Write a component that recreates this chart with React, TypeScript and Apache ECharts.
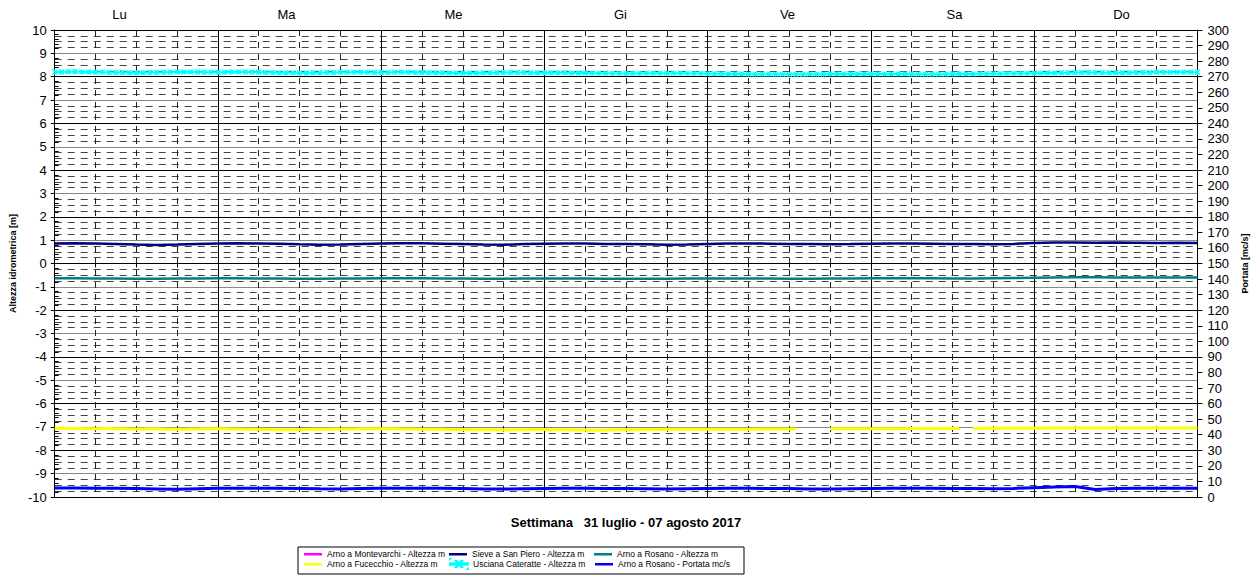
import React, { useEffect, useRef } from 'react';
import * as echarts from 'echarts';

const FONT = '"Liberation Sans", Arial, sans-serif';

const days = ['Lu', 'Ma', 'Me', 'Gi', 'Ve', 'Sa', 'Do'];
const xTitle = 'Settimana   31 luglio - 07 agosto 2017';
const leftTitle = 'Altezza idrometrica [m]';
const rightTitle = 'Portata [mc/s]';

const names = [
  'Arno a Montevarchi - Altezza m',
  'Sieve a San Piero - Altezza m',
  'Arno a Rosano - Altezza m',
  'Arno a Fucecchio - Altezza m',
  'Usciana Cateratte - Altezza m',
  'Arno a Rosano - Portata mc/s',
];
const colors = ['#FF00FF', '#000080', '#008080', '#FFFF00', '#00FFFF', '#0000FF'];

// hours from start of week
const step3 = 3;
const step1 = 1;

const montevarchi: number[] = [];

// 3-hour readings
const sievePiero = [
  0.86, 0.87, 0.86, 0.84, 0.81, 0.79, 0.81, 0.84,
  0.86, 0.87, 0.86, 0.85, 0.82, 0.80, 0.81, 0.84,
  0.86, 0.87, 0.87, 0.85, 0.83, 0.81, 0.80, 0.83,
  0.85, 0.86, 0.86, 0.84, 0.83, 0.82, 0.80, 0.81,
  0.84, 0.86, 0.86, 0.85, 0.84, 0.83, 0.82, 0.83,
  0.85, 0.86, 0.86, 0.85, 0.84, 0.83, 0.82, 0.84,
  0.88, 0.90, 0.90, 0.89, 0.90, 0.89, 0.88, 0.89, 0.88,
];

const rosanoAltezza = [
  -0.63, -0.63, -0.64, -0.64, -0.65, -0.65, -0.64, -0.64,
  -0.63, -0.63, -0.64, -0.64, -0.65, -0.65, -0.64, -0.64,
  -0.63, -0.63, -0.63, -0.64, -0.64, -0.65, -0.65, -0.64,
  -0.64, -0.64, -0.64, -0.65, -0.65, -0.65, -0.65, -0.64,
  -0.64, -0.64, -0.64, -0.64, -0.65, -0.65, -0.64, -0.64,
  -0.63, -0.63, -0.63, -0.63, -0.64, -0.64, -0.63, -0.62,
  -0.61, -0.60, -0.59, -0.59, -0.60, -0.60, -0.60, -0.60, -0.60,
];

// hourly readings
const fucecchio: (number | null)[] = [
  -7.06, -7.06, -7.07, -7.07, -7.07, -7.08, -7.08, -7.07, -7.07, -7.08, -7.08, -7.09,
  -7.09, -7.09, -7.08, -7.08, -7.09, -7.10, -7.10, -7.10, -7.09, -7.09, -7.08, -7.08,
  -7.08, -7.08, -7.09, -7.09, -7.10, -7.10, -7.10, -7.11, -7.11, -7.12, -7.12, -7.12,
  -7.11, -7.11, -7.10, -7.10, -7.10, -7.09, -7.09, -7.09, -7.09, -7.08, -7.08, -7.08,
  -7.08, -7.08, -7.08, -7.09, -7.09, -7.09, -7.10, -7.10, -7.10, -7.10, -7.11, -7.11,
  -7.11, -7.11, -7.12, -7.12, -7.12, -7.12, -7.13, -7.13, -7.12, -7.12, -7.11, -7.11,
  -7.11, -7.11, -7.12, -7.12, -7.13, -7.13, -7.13, -7.14, -7.14, -7.13, -7.13, -7.12,
  -7.12, -7.12, -7.11, -7.11, -7.11, -7.11, -7.10, -7.10, -7.10, -7.10, -7.10, -7.10,
  -7.10, -7.10, -7.10, -7.10, -7.10, -7.10, -7.10, -7.09, -7.09, -7.09, -7.09, -7.09,
  -7.09, -7.09, null, null, null, null, -7.08, -7.08, -7.08, -7.08, -7.08, -7.08,
  -7.08, -7.08, -7.08, -7.08, -7.08, -7.08, -7.07, -7.07, -7.07, -7.07, -7.07, -7.07,
  -7.07, -7.07, null, -7.07, -7.07, -7.06, -7.06, -7.06, -7.06, -7.06, -7.06, -7.06,
  -7.06, -7.06, -7.05, -7.05, -7.05, -7.05, -7.05, -7.05, -7.04, -7.04, -7.04, -7.05,
  -7.05, -7.05, -7.05, -7.04, -7.04, -7.04, -7.04, -7.04, -7.04, -7.04, -7.04, -7.04,
  -7.04,
];

const usciana = [
  8.20, 8.20, 8.21, 8.21, 8.20, 8.20, 8.19, 8.19, 8.18, 8.18, 8.18, 8.17,
  8.17, 8.17, 8.18, 8.18, 8.19, 8.19, 8.20, 8.20, 8.20, 8.20, 8.19, 8.19,
  8.19, 8.19, 8.20, 8.20, 8.20, 8.19, 8.19, 8.18, 8.18, 8.17, 8.17, 8.17,
  8.16, 8.16, 8.17, 8.17, 8.18, 8.18, 8.19, 8.19, 8.19, 8.19, 8.19, 8.18,
  8.18, 8.18, 8.19, 8.19, 8.19, 8.18, 8.18, 8.18, 8.17, 8.17, 8.16, 8.16,
  8.16, 8.16, 8.16, 8.17, 8.17, 8.17, 8.18, 8.18, 8.18, 8.18, 8.17, 8.17,
  8.17, 8.17, 8.17, 8.17, 8.16, 8.16, 8.16, 8.15, 8.15, 8.15, 8.14, 8.14,
  8.14, 8.14, 8.14, 8.15, 8.15, 8.15, 8.15, 8.15, 8.15, 8.14, 8.14, 8.14,
  8.13, 8.13, 8.13, 8.12, 8.12, 8.12, 8.11, 8.11, 8.11, 8.11, 8.10, 8.10,
  8.10, 8.10, 8.10, 8.11, 8.11, 8.11, 8.12, 8.12, 8.12, 8.12, 8.12, 8.12,
  8.12, 8.12, 8.12, 8.12, 8.12, 8.12, 8.11, 8.11, 8.11, 8.11, 8.11, 8.11,
  8.12, 8.12, 8.12, 8.12, 8.13, 8.13, 8.13, 8.13, 8.14, 8.14, 8.14, 8.14,
  8.15, 8.15, 8.16, 8.16, 8.17, 8.17, 8.18, 8.18, 8.18, 8.18, 8.17, 8.17,
  8.17, 8.17, 8.17, 8.18, 8.18, 8.18, 8.19, 8.19, 8.19, 8.19, 8.19, 8.19,
  8.19,
];

// 3-hour readings, right axis
const rosanoPortata = [
  5.8, 5.8, 5.7, 5.6, 5.5, 5.2, 4.9, 5.3,
  5.6, 5.7, 5.7, 5.6, 5.5, 5.3, 5.2, 5.4,
  5.6, 5.7, 5.7, 5.6, 5.4, 5.2, 5.1, 5.3,
  5.5, 5.6, 5.6, 5.5, 5.4, 5.3, 5.1, 5.3,
  5.5, 5.6, 5.6, 5.5, 5.4, 5.2, 5.1, 5.3,
  5.5, 5.6, 5.6, 5.6, 5.5, 5.4, 5.3, 5.5,
  6.0, 6.5, 6.7, 4.8, 5.5, 5.7, 5.6, 5.6, 5.6,
];

const toPairs = (vals: (number | null)[], step: number) =>
  vals.map((v, i) => [i * step, v]);

// legend icons: thin line (with invisible corner points fixing the 18x10 box)
const BOX = 'M0,0L0.01,0L0,0.01Z M18,10L17.99,10L18,9.99Z ';
const LINE_ICON = 'path://' + BOX + 'M0,4L18,4L18,6.5L0,6.5Z';
const X_ICON =
  'path://' + BOX +
  'M0,4.3L18,4.3L18,5.7L0,5.7Z M6,2L7,2L12,8L11,8Z M11,2L12,2L7,8L6,8Z';

const option: any = {
  animation: false,
  backgroundColor: '#ffffff',
  textStyle: { fontFamily: FONT },
  grid: [
    { left: 53, right: 55, top: 30, height: 467, containLabel: false },
    { left: 36, right: 52, top: 30, height: 467, containLabel: false },
  ],
  legend: {
    data: names.map((n, i) => ({ name: n, icon: i === 4 ? X_ICON : LINE_ICON })),
    left: 298,
    top: 547,
    width: 460,
    orient: 'horizontal',
    itemGap: 0,
    itemWidth: 18,
    itemHeight: 10,
    padding: [2, 4, 4, 6],
    borderColor: '#000',
    borderWidth: 1,
    textStyle: { fontFamily: FONT, fontSize: 8.5, color: '#000', width: 122, lineHeight: 10 },
  },
  xAxis: [
    {
      type: 'value',
      gridIndex: 0,
      min: 0,
      max: 168,
      interval: 6,
      position: 'bottom',
      axisLine: { show: true, lineStyle: { color: '#000', width: 1 } },
      axisTick: { show: true, length: 4, lineStyle: { color: '#000' } },
      axisLabel: { show: false },
      splitLine: { show: true, lineStyle: { color: '#222', width: 1, type: [6, 6] } },
      name: xTitle,
      nameLocation: 'middle',
      nameGap: 19,
      nameTextStyle: { fontFamily: FONT, fontSize: 13, fontWeight: 'bold', color: '#000' },
    },
    {
      type: 'category',
      gridIndex: 0,
      data: days,
      position: 'top',
      boundaryGap: true,
      axisLine: { show: false },
      axisTick: { show: false },
      axisLabel: { show: false },
      splitLine: { show: true, lineStyle: { color: '#000', width: 1 } },
    },
    {
      type: 'category',
      gridIndex: 1,
      data: days,
      position: 'top',
      boundaryGap: true,
      axisLine: { show: false },
      axisTick: { show: false },
      axisLabel: { show: true, fontFamily: FONT, fontSize: 13, color: '#000', margin: 9 },
      splitLine: { show: false },
    },
  ],
  yAxis: [
    {
      type: 'value',
      gridIndex: 0,
      min: -10,
      max: 10,
      interval: 1,
      position: 'left',
      axisLine: { show: true, lineStyle: { color: '#000', width: 1 } },
      axisTick: { show: true, length: 4, lineStyle: { color: '#000' } },
      minorTick: { show: false, splitNumber: 4 },
      minorSplitLine: { show: true, lineStyle: { color: '#444', width: 1, type: [7, 6] } },
      axisLabel: { fontFamily: FONT, fontSize: 13, color: '#000', margin: 8 },
      splitLine: { show: true, lineStyle: { color: ['#000', '#888'], width: 1 } },
      name: leftTitle,
      nameLocation: 'middle',
      nameGap: 34,
      nameRotate: 90,
      nameTextStyle: { fontFamily: FONT, fontSize: 9, fontWeight: 'bold', color: '#000' },
    },
    {
      type: 'value',
      gridIndex: 0,
      min: 0,
      max: 300,
      interval: 10,
      position: 'right',
      axisLine: { show: true, lineStyle: { color: '#000', width: 1 } },
      axisTick: { show: true, length: 5, lineStyle: { color: '#000' } },
      axisLabel: { fontFamily: FONT, fontSize: 13, color: '#000', margin: 10 },
      splitLine: { show: false },
      name: rightTitle,
      nameLocation: 'middle',
      nameGap: 36,
      nameRotate: 90,
      nameTextStyle: { fontFamily: FONT, fontSize: 9, fontWeight: 'bold', color: '#000' },
    },
    {
      type: 'value',
      gridIndex: 0,
      min: -10,
      max: 10,
      interval: 1,
      position: 'left',
      axisLine: { show: false },
      axisTick: { show: false, inside: true },
      minorTick: { show: true, splitNumber: 5, length: 4, lineStyle: { color: '#000' } },
      axisLabel: { show: false },
      splitLine: { show: false },
    },
    {
      type: 'value',
      gridIndex: 1,
      show: false,
      min: 0,
      max: 1,
    },
  ],
  series: [
    {
      name: names[0],
      type: 'line',
      xAxisIndex: 0,
      yAxisIndex: 0,
      data: toPairs(montevarchi, step1),
      symbol: 'none',
      lineStyle: { color: colors[0], width: 2.5 },
      itemStyle: { color: colors[0] },
    },
    {
      name: names[1],
      type: 'line',
      xAxisIndex: 0,
      yAxisIndex: 0,
      data: toPairs(sievePiero, step3),
      symbol: 'none',
      lineStyle: { color: colors[1], width: 2.5 },
      itemStyle: { color: colors[1] },
    },
    {
      name: names[2],
      type: 'line',
      xAxisIndex: 0,
      yAxisIndex: 0,
      data: toPairs(rosanoAltezza, step3),
      symbol: 'none',
      lineStyle: { color: colors[2], width: 2.5 },
      itemStyle: { color: colors[2] },
    },
    {
      name: names[3],
      type: 'line',
      xAxisIndex: 0,
      yAxisIndex: 0,
      data: toPairs(fucecchio, step1),
      symbol: 'none',
      connectNulls: false,
      lineStyle: { color: colors[3], width: 3 },
      itemStyle: { color: colors[3] },
    },
    {
      name: names[4],
      type: 'line',
      xAxisIndex: 0,
      yAxisIndex: 0,
      data: toPairs(usciana, step1),
      symbol: 'path://M0,0L10,10M10,0L0,10M5,0L5,10',
      symbolSize: 5,
      showSymbol: true,
      lineStyle: { color: colors[4], width: 2 },
      itemStyle: { color: colors[4], borderColor: colors[4], borderWidth: 1.2 },
    },
    {
      name: names[5],
      type: 'line',
      xAxisIndex: 0,
      yAxisIndex: 1,
      data: toPairs(rosanoPortata, step3),
      symbol: 'none',
      lineStyle: { color: colors[5], width: 3 },
      itemStyle: { color: colors[5] },
    },
  ],
};

export default function App() {
  const ref = useRef<HTMLDivElement>(null);
  useEffect(() => {
    if (!ref.current) return;
    const chart = echarts.init(ref.current, null, { renderer: 'svg' });
    chart.setOption(option);
    return () => chart.dispose();
  }, []);
  return (
    <div
      ref={ref}
      style={{ position: 'absolute', left: 0, top: 0, width: 1257, height: 575, background: '#fff' }}
    />
  );
}
